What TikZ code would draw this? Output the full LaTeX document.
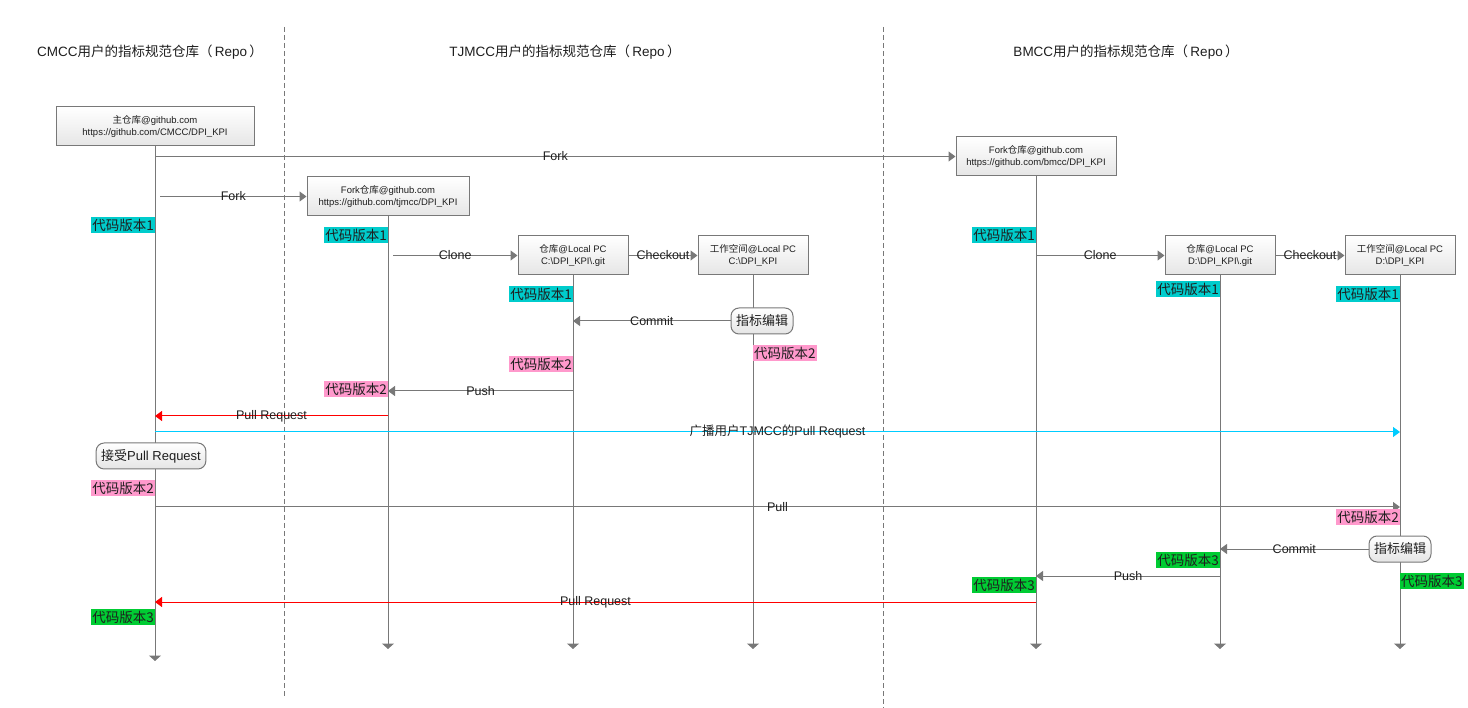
\documentclass[tikz,border=0pt]{standalone}
\usepackage{fontspec}
\setmainfont{Liberation Sans}
\newfontfamily\cjk{Noto Sans CJK SC}
\usetikzlibrary{arrows.meta}
\definecolor{lg}{RGB}{120,120,120}
\definecolor{tx}{RGB}{30,30,30}
\definecolor{vone}{RGB}{0,204,204}
\definecolor{vtwo}{RGB}{255,153,204}
\definecolor{vthree}{RGB}{0,204,51}
\definecolor{bcast}{RGB}{0,204,255}
\newcommand\zhs[1]{{\cjk #1}}
\begin{document}
\begin{tikzpicture}[x=1pt,y=-1pt,
 repo/.style={draw=lg, line width=1pt, top color=white, bottom color=black!10, minimum height=39pt, inner sep=0pt, align=center, font=\fontsize{9.5}{12}\selectfont, text=tx},
 act/.style={draw=lg, line width=1pt, rounded corners=8pt, top color=white, bottom color=black!10, minimum height=26pt, inner xsep=5pt, font=\fontsize{13}{15}\selectfont, text=tx},
 life/.style={draw=lg, line width=1pt, -{Triangle[length=5.5pt,width=12pt]}},
 msg/.style={draw=lg, line width=1pt, -{Triangle[length=7pt,width=10pt]}},
 redmsg/.style={draw=red, line width=1pt, -{Triangle[length=7pt,width=10pt]}},
 cyanmsg/.style={draw=bcast, line width=1pt, -{Triangle[length=7pt,width=10pt]}},
 ver/.style={inner xsep=1pt, inner ysep=1.5pt, font=\fontsize{13.5}{15}\selectfont\cjk, text=tx},
 lbl/.style={font=\fontsize{12.5}{14}\selectfont, text=tx, inner sep=0pt},
 head/.style={font=\fontsize{13.5}{15}\selectfont, text=tx},
 sep/.style={draw=lg, line width=1pt, dash pattern=on 5pt off 3pt}
]
\useasboundingbox (0,0) rectangle (1468,708);
% separators
\coordinate (s1a) at (284,27); \coordinate (s1b) at (284,697);
\coordinate (s2a) at (883,27); \coordinate (s2b) at (883,708);
\draw[sep] (s1a) -- (s1b);
\draw[sep] (s2a) -- (s2b);
% headers
\node[head] (h1) at (150,52) {CMCC\zhs{用户的指标规范仓库（}\,Repo\,\zhs{）}};
\node[head] (h2) at (565,52) {TJMCC\zhs{用户的指标规范仓库（}\,Repo\,\zhs{）}};
\node[head] (h3) at (1126,52) {BMCC\zhs{用户的指标规范仓库（}\,Repo\,\zhs{）}};
% repositories
\node[repo, minimum width=198pt] (main) at (155,126.5) {\zhs{主仓库}@github.com\\https://github.com/CMCC/DPI\_KPI};
\node[repo, minimum width=162pt] (tjf) at (388,196.5) {Fork\zhs{仓库}@github.com\\https://github.com/tjmcc/DPI\_KPI};
\node[repo, minimum width=160pt] (bmf) at (1036,156.5) {Fork\zhs{仓库}@github.com\\https://github.com/bmcc/DPI\_KPI};
\node[repo, minimum width=110pt] (tjl) at (573,255.5) {\zhs{仓库}@Local PC\\C:\textbackslash DPI\_KPI\textbackslash .git};
\node[repo, minimum width=110pt] (tjw) at (753,255.5) {\zhs{工作空间}@Local PC\\C:\textbackslash DPI\_KPI};
\node[repo, minimum width=110pt] (bml) at (1220,255.5) {\zhs{仓库}@Local PC\\D:\textbackslash DPI\_KPI\textbackslash .git};
\node[repo, minimum width=110pt] (bmw) at (1400,255.5) {\zhs{工作空间}@Local PC\\D:\textbackslash DPI\_KPI};
% lifelines
\draw[life] (main.south) -- (main.south |- 0,661);
\draw[life] (tjf.south) -- (tjf.south |- 0,649);
\draw[life] (tjl.south) -- (tjl.south |- 0,649);
\draw[life] (tjw.south) -- (tjw.south |- 0,649);
\draw[life] (bmf.south) -- (bmf.south |- 0,649);
\draw[life] (bml.south) -- (bml.south |- 0,649);
\draw[life] (bmw.south) -- (bmw.south |- 0,649);
% activities
\node[act] (tje) at (762,321) {\zhs{指标编辑}};
\node[act] (acc) at (151,456) {\zhs{接受}Pull Request};
\node[act] (bme) at (1400,549) {\zhs{指标编辑}};
% messages
\draw[msg] (main.south |- bmf.west) -- (bmf.west) node[lbl, midway] {Fork};
\draw[msg] ([xshift=5pt]main.south |- tjf.west) -- (tjf.west) node[lbl, midway] {Fork};
\draw[msg] ([xshift=5pt]tjf.south |- tjl.west) -- (tjl.west) node[lbl, midway] {Clone};
\draw[msg] (tjl.east) -- (tjw.west) node[lbl, midway] {Checkout};
\draw[msg] (tje.west) -- (tjl.south |- tje.west) node[lbl, midway] {Commit};
\draw[msg] (tjl.south |- 0,391) -- (tjf.south |- 0,391) node[lbl, midway] {Push};
\draw[redmsg] (tjf.south |- 0,416) -- (main.south |- 0,416) node[lbl, midway] {Pull Request};
\draw[cyanmsg] (main.south |- 0,432) -- (bmw.south |- 0,432) node[lbl, midway] {\zhs{广播用户}TJMCC\zhs{的}Pull Request};
\draw[msg] (main.south |- 0,507) -- (bmw.south |- 0,507) node[lbl, midway] {Pull};
\draw[msg] (bmf.south |- bml.west) -- (bml.west) node[lbl, midway] {Clone};
\draw[msg] (bml.east) -- (bmw.west) node[lbl, midway] {Checkout};
\draw[msg] (bme.west) -- (bml.south |- bme.west) node[lbl, midway] {Commit};
\draw[msg] (bml.south |- 0,576) -- (bmf.south |- 0,576) node[lbl, midway] {Push};
\draw[redmsg] (bmf.south |- 0,602) -- (main.south |- 0,602) node[lbl, midway] {Pull Request};
% versions
\node[ver, fill=vone, anchor=east] (m1) at (main.south |- 0,225) {代码版本1};
\node[ver, fill=vtwo, anchor=east] (m2) at (main.south |- 0,488) {代码版本2};
\node[ver, fill=vthree, anchor=east] (m3) at (main.south |- 0,617) {代码版本3};
\node[ver, fill=vone, anchor=east] (t1) at (tjf.south |- 0,235) {代码版本1};
\node[ver, fill=vtwo, anchor=east] (t2) at (tjf.south |- 0,389) {代码版本2};
\node[ver, fill=vone, anchor=east] (tl1) at (tjl.south |- 0,294) {代码版本1};
\node[ver, fill=vtwo, anchor=east] (tl2) at (tjl.south |- 0,364) {代码版本2};
\node[ver, fill=vtwo, anchor=west] (tw2) at (tjw.south |- 0,353) {代码版本2};
\node[ver, fill=vone, anchor=east] (b1) at (bmf.south |- 0,235) {代码版本1};
\node[ver, fill=vthree, anchor=east] (b3) at (bmf.south |- 0,585) {代码版本3};
\node[ver, fill=vone, anchor=east] (bl1) at (bml.south |- 0,289) {代码版本1};
\node[ver, fill=vthree, anchor=east] (bl3) at (bml.south |- 0,560) {代码版本3};
\node[ver, fill=vone, anchor=east] (bw1) at (bmw.south |- 0,294) {代码版本1};
\node[ver, fill=vtwo, anchor=east] (bw2) at (bmw.south |- 0,517) {代码版本2};
\node[ver, fill=vthree, anchor=west] (bw3) at (bmw.south |- 0,581) {代码版本3};
\end{tikzpicture}
\end{document}
